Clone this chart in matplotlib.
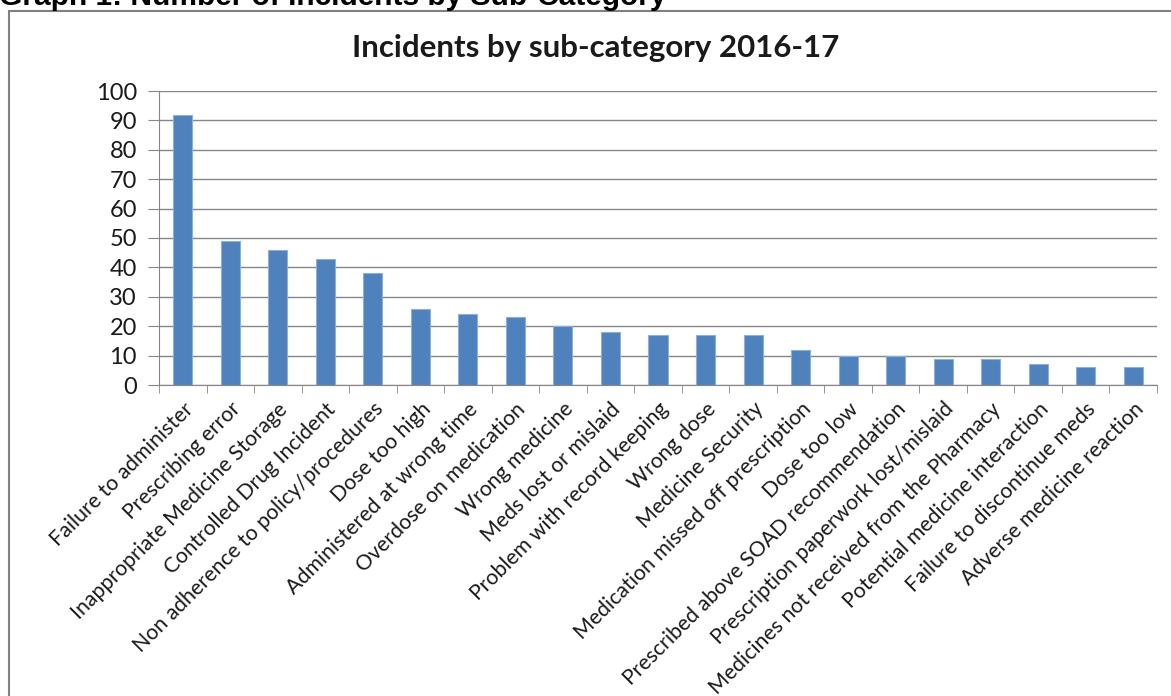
import matplotlib
matplotlib.use("Agg")
import matplotlib.pyplot as plt
from matplotlib.patches import Rectangle

categories = [
    "Failure to administer", "Prescribing error", "Inappropriate Medicine Storage",
    "Controlled Drug Incident", "Non adherence to policy/procedures", "Dose too high",
    "Administered at wrong time", "Overdose on medication", "Wrong medicine",
    "Meds lost or mislaid", "Problem with record keeping", "Wrong dose",
    "Medicine Security", "Medication missed off prescription", "Dose too low",
    "Prescribed above SOAD recommendation", "Prescription paperwork lost/mislaid",
    "Medicines not received from the Pharmacy", "Potential medicine interaction",
    "Failure to discontinue meds", "Adverse medicine reaction",
]
values = [92, 49, 46, 43, 38, 26, 24, 23, 20, 18, 17, 17, 17, 12, 10, 10, 9, 9, 7, 6, 6]
yticks = list(range(0, 101, 10))

W, H = 1171, 696
fig = plt.figure(figsize=(W / 100, H / 100), dpi=100)
fig.patch.set_facecolor("white")

# chart border
fig.patches.append(Rectangle((9 / W, -0.05), 1.2, (H - 11) / H + 0.05, transform=fig.transFigure,
                             fill=False, edgecolor="#808080", linewidth=1.5))

# clipped header
fig.text(-1 / W, 1 - 5 / H, "Graph 1: Number of Incidents by Sub-Category",
         family="Liberation Sans", weight="bold", fontsize=21.5, va="baseline", ha="left")

ax = fig.add_axes([159 / W, (H - 385) / H, (1157 - 159) / W, (385 - 91) / H])
x = list(range(len(values)))
ax.bar(x, values, width=0.4, color="#4F81BD", edgecolor="#8DB0DA", linewidth=0.8, zorder=3)
ax.set_xlim(-0.5, len(values) - 0.5)
ax.set_ylim(0, 100)
ax.set_yticks(yticks)
ax.set_yticklabels([str(v) for v in yticks], family="Lato", fontsize=17, color="#1a1a1a")
ax.yaxis.grid(True, color="#868686", linewidth=1, zorder=0)
ax.tick_params(axis="y", length=8, color="#868686", pad=8)
ax.set_xticks(x)
ax.set_xticklabels(categories, rotation=45, ha="right", va="top", rotation_mode="anchor",
                   family="Lato", fontsize=15.3, color="#1a1a1a")
ax.tick_params(axis="x", which="major", length=0, pad=10)
ax.set_xticks([i - 0.5 for i in range(len(values) + 1)], minor=True)
ax.tick_params(axis="x", which="minor", length=6, color="#868686")
for s in ["top", "right"]:
    ax.spines[s].set_visible(False)
for s in ["left", "bottom"]:
    ax.spines[s].set_color("#868686")

fig.text(596 / W, 1 - 57 / H, "Incidents by sub-category 2016-17", family="Lato",
         weight="bold", fontsize=22.5, ha="center", va="baseline", color="#1a1a1a")

fig.savefig("out.png", dpi=100)
